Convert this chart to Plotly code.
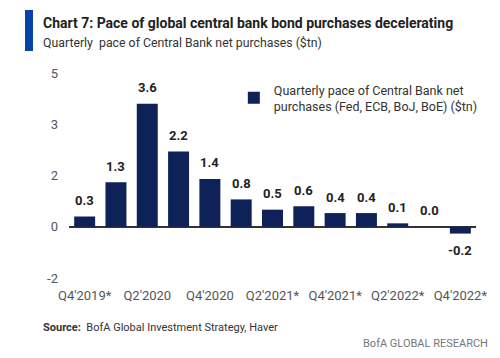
import plotly.graph_objects as go

categories = ["Q4'2019*", "Q1'2020", "Q2'2020", "Q3'2020", "Q4'2020", "Q1'2021",
              "Q2'2021*", "Q3'2021", "Q4'2021*", "Q1'2022", "Q2'2022*", "Q3'2022", "Q4'2022*"]
values = [0.3, 1.3, 3.6, 2.2, 1.4, 0.8, 0.5, 0.6, 0.4, 0.4, 0.1, 0.0, -0.2]
x_tick_labels = categories[::2]
y_tick_vals = [-1.5, 0, 1.5, 3, 4.5]
y_tick_text = ["-2", "0", "2", "3", "5"]

series_name = "Quarterly pace of Central Bank net<br>purchases (Fed, ECB, BoJ, BoE) ($tn)"
FONT = "Roboto, sans-serif"

fig = go.Figure()
fig.add_trace(go.Bar(
    x=categories, y=values, name=series_name,
    marker=dict(color="#0e2259", line=dict(width=0)),
    showlegend=True,
))

# value labels
for c, v in zip(categories, values):
    fig.add_annotation(x=c, y=v, text=f"<b>{v:.1f}</b>", showarrow=False,
                       yanchor="middle", yshift=16 if v >= 0 else -17,
                       font=dict(family=FONT, size=13, color="#222222"))

fig.update_layout(
    width=500, height=358,
    margin=dict(l=69, r=24, t=73, b=80, autoexpand=False),
    paper_bgcolor="white", plot_bgcolor="white",
    font=dict(family=FONT, color="#444444"),
    bargap=0.33,
    showlegend=True,
    legend=dict(x=0.405, y=0.99, xanchor="left", yanchor="top",
                font=dict(family=FONT, size=12.5, color="#333333"),
                bgcolor="rgba(0,0,0,0)", itemwidth=30),
    xaxis=dict(
        tickmode="array", tickvals=x_tick_labels, ticktext=x_tick_labels,
        tickfont=dict(family=FONT, size=13, color="#555555"), tickangle=0,
        showgrid=False, showline=False, ticks="", ticklabelstandoff=8, automargin=False,
    ),
    yaxis=dict(
        range=[-1.5, 4.5], tickmode="array", tickvals=y_tick_vals, ticktext=y_tick_text,
        tickfont=dict(family=FONT, size=13, color="#555555"),
        showgrid=False, zeroline=True, zerolinecolor="#333333", zerolinewidth=1.5,
        showline=False, ticks="", ticklabelstandoff=10, automargin=False,
    ),
)

# Title block
fig.add_shape(type="rect", xref="paper", yref="paper",
              x0=-(69 - 25) / 407, x1=-(69 - 33) / 407,
              y0=1 + (73 - 51) / 205, y1=1 + (73 - 10) / 205,
              fillcolor="#0a43a8", line=dict(width=0))
fig.add_annotation(text="<b>Chart 7: Pace of global central bank bond purchases decelerating</b>",
                   xref="paper", yref="paper", x=-(69 - 41) / 407, y=1 + (73 - 23) / 205,
                   xanchor="left", yanchor="middle", showarrow=False,
                   font=dict(family=FONT, size=14, color="#222222"))
fig.add_annotation(text="Quarterly  pace of Central Bank net purchases ($tn)",
                   xref="paper", yref="paper", x=-(69 - 41) / 407, y=1 + (73 - 43) / 205,
                   xanchor="left", yanchor="middle", showarrow=False,
                   font=dict(family=FONT, size=12.3, color="#333333"))
fig.add_annotation(text="<b>Source:</b>  BofA Global Investment Strategy, Haver",
                   xref="paper", yref="paper", x=-(69 - 41) / 407, y=-(327 - 278) / 205,
                   xanchor="left", yanchor="middle", showarrow=False,
                   font=dict(family=FONT, size=11, color="#333333"))
fig.add_annotation(text="BofA GLOBAL RESEARCH",
                   xref="paper", yref="paper", x=1 + (490 - 476) / 407, y=-(343 - 278) / 205,
                   xanchor="right", yanchor="middle", showarrow=False,
                   font=dict(family=FONT, size=11, color="#777777"))

fig.write_html("out.html", config={"displayModeBar": False},
               post_script="document.body.style.margin='0';")
